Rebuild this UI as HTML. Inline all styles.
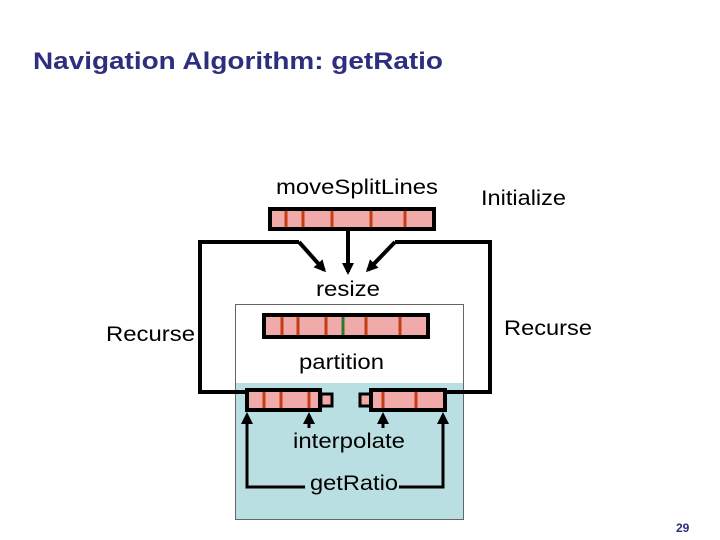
<!DOCTYPE html>
<html><head><meta charset="utf-8"><style>
html,body{margin:0;padding:0;background:#fff;}
svg{display:block;}
text{font-family:"Liberation Sans",Arial,sans-serif;}
</style></head><body>
<svg width="720" height="540" viewBox="0 0 720 540" xmlns="http://www.w3.org/2000/svg">
<defs>
<marker id="ah2" markerWidth="12" markerHeight="12" refX="9" refY="6" orient="auto" markerUnits="userSpaceOnUse">
<path d="M0,0 L12,6 L0,12 z" fill="#000"/>
</marker>
</defs>
<text x="33" y="69" font-size="24" font-weight="bold" fill="#2e2e7e" textLength="410" lengthAdjust="spacingAndGlyphs">Navigation Algorithm: getRatio</text>

<rect x="235.5" y="304.5" width="228" height="215" fill="#fff" stroke="#666" stroke-width="1"/>
<rect x="236" y="383" width="227" height="136" fill="#b9dfe3"/>
<line x1="236" y1="519.5" x2="463" y2="519.5" stroke="#666"/>
<line x1="463.5" y1="383" x2="463.5" y2="520" stroke="#666"/>
<line x1="235.5" y1="383" x2="235.5" y2="520" stroke="#666"/>

<polyline points="245,392 200,392 200,242 299,242" fill="none" stroke="#000" stroke-width="4"/>
<line x1="299" y1="242" x2="324" y2="270" stroke="#000" stroke-width="4" marker-end="url(#ah2)"/>
<polyline points="446,392 490,392 490,242 395,242" fill="none" stroke="#000" stroke-width="4"/>
<line x1="395" y1="242" x2="368" y2="270" stroke="#000" stroke-width="4" marker-end="url(#ah2)"/>
<line x1="348" y1="230" x2="348" y2="272" stroke="#000" stroke-width="4" marker-end="url(#ah2)"/>

<rect x="270" y="209" width="164" height="20" fill="#f0aaaa" stroke="#000" stroke-width="4"/>
<g stroke="#c83c14" stroke-width="3">
<line x1="286" y1="211" x2="286" y2="227"/><line x1="303" y1="211" x2="303" y2="227"/>
<line x1="332" y1="211" x2="332" y2="227"/><line x1="371" y1="211" x2="371" y2="227"/>
<line x1="405" y1="211" x2="405" y2="227"/></g>

<rect x="264" y="315" width="164" height="22" fill="#f0aaaa" stroke="#000" stroke-width="4"/>
<g stroke="#c83c14" stroke-width="3">
<line x1="282" y1="317" x2="282" y2="335"/><line x1="298" y1="317" x2="298" y2="335"/>
<line x1="326" y1="317" x2="326" y2="335"/><line x1="366" y1="317" x2="366" y2="335"/>
<line x1="400" y1="317" x2="400" y2="335"/></g>
<line x1="343" y1="317" x2="343" y2="335" stroke="#2a7a2a" stroke-width="3"/>

<rect x="321" y="394" width="11" height="12" fill="#f0aaaa" stroke="#000" stroke-width="3"/>
<rect x="247" y="390" width="73" height="20" fill="#f0aaaa" stroke="#000" stroke-width="4"/>
<g stroke="#c83c14" stroke-width="3">
<line x1="264" y1="392" x2="264" y2="408"/><line x1="281" y1="392" x2="281" y2="408"/><line x1="309" y1="392" x2="309" y2="408"/></g>
<rect x="360" y="394" width="11" height="12" fill="#f0aaaa" stroke="#000" stroke-width="3"/>
<rect x="371" y="390" width="74" height="20" fill="#f0aaaa" stroke="#000" stroke-width="4"/>
<g stroke="#c83c14" stroke-width="3">
<line x1="383" y1="392" x2="383" y2="408"/><line x1="416" y1="392" x2="416" y2="408"/></g>

<g stroke="#000" stroke-width="3" fill="none">
<polyline points="305,487 247,487 247,420"/>
<polyline points="399,487 443,487 443,420"/>
<line x1="309" y1="428" x2="309" y2="420"/>
<line x1="383" y1="428" x2="383" y2="420"/>
</g>
<g fill="#000">
<path d="M241,424 L247,412 L253,424 z"/><path d="M437,424 L443,412 L449,424 z"/>
<path d="M303,424 L309,412 L315,424 z"/><path d="M377,424 L383,412 L389,424 z"/>
</g>

<g font-size="21" fill="#000">
<text x="276" y="194" textLength="162" lengthAdjust="spacingAndGlyphs">moveSplitLines</text>
<text x="481" y="205" textLength="85" lengthAdjust="spacingAndGlyphs">Initialize</text>
<text x="316" y="296" textLength="64" lengthAdjust="spacingAndGlyphs">resize</text>
<text x="106" y="341" textLength="89" lengthAdjust="spacingAndGlyphs">Recurse</text>
<text x="504" y="335" textLength="88" lengthAdjust="spacingAndGlyphs">Recurse</text>
<text x="299" y="369" textLength="85" lengthAdjust="spacingAndGlyphs">partition</text>
<text x="293" y="448" textLength="112" lengthAdjust="spacingAndGlyphs">interpolate</text>
<text x="310" y="490" textLength="88" lengthAdjust="spacingAndGlyphs">getRatio</text>
</g>
<text x="676" y="532" font-size="12" font-weight="bold" fill="#2e2e7e">29</text>
</svg>
</body></html>
